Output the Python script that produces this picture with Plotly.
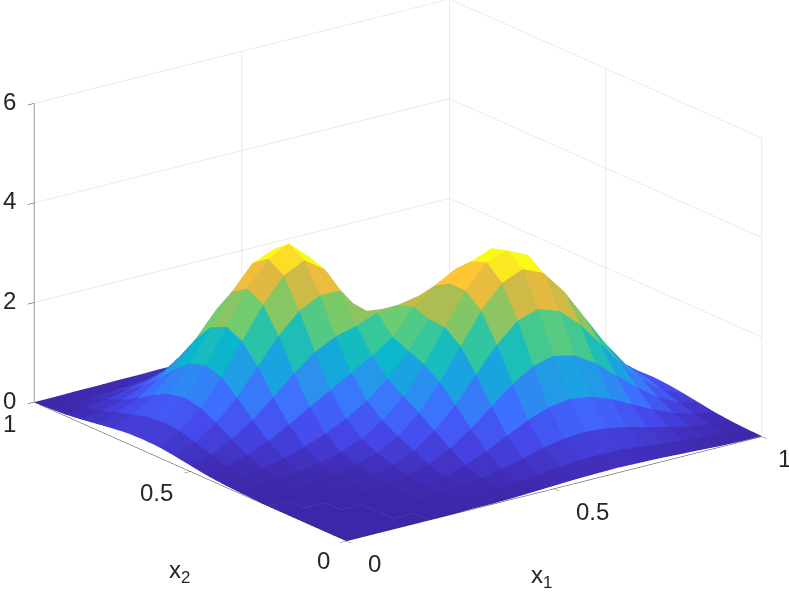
import plotly.graph_objects as go

# grid of the surface
x1_vals = [i * 0.05 for i in range(21)]
x2_vals = [j * 0.05 for j in range(21)]

# heights, one row per x2 value, x1 runs left to right
z_rows = [
    [0, 0, 0, 0, 0, 0, .01, .01, .02, .04, .06, .08, .09, .10, .09, .08, .06, .04, .02, .01, .01],
    [0, 0, 0, 0, 0, .01, .02, .03, .06, .10, .15, .19, .23, .24, .23, .19, .15, .10, .06, .03, .02],
    [0, 0, 0, 0, .01, .02, .04, .07, .14, .23, .33, .44, .52, .55, .52, .44, .33, .23, .14, .07, .04],
    [0, 0, 0, 0, .01, .03, .07, .14, .27, .44, .65, .86, 1.01, 1.07, 1.01, .86, .65, .44, .27, .14, .07],
    [0, 0, 0, .01, .03, .06, .13, .25, .46, .75, 1.10, 1.44, 1.70, 1.80, 1.70, 1.44, 1.09, .74, .45, .24, .12],
    [0, 0, .01, .02, .05, .10, .20, .38, .68, 1.09, 1.60, 2.09, 2.47, 2.60, 2.46, 2.08, 1.58, 1.07, .65, .35, .17],
    [.01, .01, .03, .05, .09, .17, .30, .53, .90, 1.41, 2.03, 2.64, 3.09, 3.26, 3.08, 2.60, 1.97, 1.34, .81, .44, .21],
    [.02, .03, .06, .11, .18, .29, .45, .71, 1.09, 1.63, 2.27, 2.90, 3.37, 3.50, 3.30, 2.62, 2.00, 1.44, .87, .47, .23],
    [.04, .07, .14, .23, .36, .52, .71, .97, 1.31, 1.76, 2.29, 2.90, 3.24, 3.40, 3.22, 2.80, 2.20, 1.55, .95, .50, .22],
    [.07, .14, .26, .44, .66, .91, 1.15, 1.39, 1.63, 1.90, 2.40, 2.72, 2.95, 3.05, 3.05, 2.70, 2.20, 1.65, 1.05, .55, .25],
    [.12, .24, .44, .72, 1.08, 1.45, 1.77, 1.98, 2.09, 2.25, 2.30, 2.38, 2.50, 2.62, 2.70, 2.45, 2.00, 1.50, .95, .50, .22],
    [.17, .34, .63, 1.04, 1.55, 2.06, 2.46, 2.67, 2.66, 2.12, 2.08, 2.05, 2.10, 2.10, 2.00, 1.80, 1.50, 1.10, .70, .38, .17],
    [.21, .43, .79, 1.30, 1.92, 2.55, 3.03, 3.23, 2.94, 2.24, 1.90, 1.75, 1.70, 1.60, 1.45, 1.25, 1.00, .75, .45, .25, .12],
    [.22, .46, .85, 1.40, 2.07, 2.73, 3.23, 3.43, 3.05, 2.50, 1.90, 1.45, 1.20, 1.05, .90, .75, .60, .42, .25, .13, .07],
    [.21, .43, .79, 1.30, 1.92, 2.53, 3.00, 3.17, 2.95, 2.50, 1.90, 1.30, .90, .65, .50, .38, .30, .20, .12, .06, .03],
    [.17, .34, .63, 1.04, 1.54, 2.03, 2.40, 2.53, 2.40, 2.04, 1.55, 1.06, .66, .42, .28, .20, .15, .10, .05, .02, 0],
    [.12, .24, .43, .72, 1.06, 1.39, 1.65, 1.74, 1.65, 1.40, 1.06, .72, .44, .24, .12, .06, .02, .01, 0, 0, 0],
    [.07, .14, .26, .43, .63, .83, .98, 1.04, .98, .83, .63, .43, .26, .14, .07, .03, .01, 0, 0, 0, 0],
    [.03, .07, .13, .22, .32, .42, .50, .53, .50, .42, .32, .22, .13, .07, .03, .02, .01, 0, 0, 0, 0],
    [.01, .02, .03, .05, .07, .10, .22, .24, .22, .19, .14, .10, .06, .03, .02, .01, 0, 0, 0, 0, 0],
    [0, 0, .01, .01, .02, .02, .03, .03, .03, .02, .02, .01, .01, 0, 0, 0, 0, 0, 0, 0, 0],
]

x_ticks = [0, 0.5, 1]
x_labels = ["0", "0.5", "1"]
z_ticks = [0, 2, 4, 6]
z_labels = ["0", "2", "4", "6"]

color_max = 3.2

# parula colour stops
parula = [
    (62, 38, 168), (71, 71, 235), (62, 111, 255), (39, 150, 235), (8, 181, 208),
    (50, 198, 160), (112, 204, 110), (165, 190, 85), (225, 185, 65), (254, 195, 55),
    (249, 251, 21),
]


def parula_color(value, vmax):
    t = max(min(value / vmax, 1), 0) * (len(parula) - 1)
    lo = min(int(t), len(parula) - 2)
    f = t - lo
    rgb = [round(a + (b - a) * f) for a, b in zip(parula[lo], parula[lo + 1])]
    return f"rgb({rgb[0]},{rgb[1]},{rgb[2]})"


n = len(x1_vals)
m = len(x2_vals)

xs, ys, zs = [], [], []
for j in range(m):
    for i in range(n):
        xs.append(x1_vals[i])
        ys.append(x2_vals[j])
        zs.append(z_rows[j][i])

# two triangles per cell, flat coloured like surf
ti, tj, tk, face_colors = [], [], [], []
for j in range(m - 1):
    for i in range(n - 1):
        a = j * n + i
        b = a + 1
        c = a + n + 1
        d = a + n
        col = parula_color(z_rows[j][i], color_max)
        ti += [a, a]
        tj += [b, c]
        tk += [c, d]
        face_colors += [col, col]

fig = go.Figure(
    go.Mesh3d(
        x=xs, y=ys, z=zs, i=ti, j=tj, k=tk,
        facecolor=face_colors,
        flatshading=True,
        lighting=dict(ambient=1, diffuse=0, specular=0, fresnel=0),
        hoverinfo="skip",
        showscale=False,
    )
)

label_font = dict(family="Liberation Sans", size=24, color="#262626")


def label(x, y, z, text, dx, dy):
    return dict(x=x, y=y, z=z, text=text, showarrow=False, font=label_font,
                xshift=dx, yshift=-dy, xanchor="center", yanchor="middle")


x_shifts = [(28, 23), (38, 23), (23, 22)]
y_shifts = [(-23, 20), (-34, 21), (-25, 21)]
annotations = []
for v, t, s in zip(x_ticks, x_labels, x_shifts):
    annotations.append(label(v, 0, 0, t, s[0], s[1]))
for v, t, s in zip(x_ticks, x_labels, y_shifts):
    annotations.append(label(0, v, 0, t, s[0], s[1]))
for v, t in zip(z_ticks, z_labels):
    annotations.append(label(0, 1, v, t, -25, -2))
annotations.append(label(0.5, 0, 0, "x<sub>1</sub>", -13, 88))
annotations.append(label(0, 0.5, 0, "x<sub>2</sub>", -11, 100))

common = dict(
    showbackground=False,
    showgrid=True,
    gridcolor="#d8d8d8",
    gridwidth=1,
    showline=True,
    linecolor="#333333",
    linewidth=1,
    ticks="outside",
    ticklen=8,
    tickcolor="#333333",
    showticklabels=False,
    zeroline=False,
    showspikes=False,
    title=dict(text=""),
)

fig.update_layout(
    width=789,
    height=594,
    margin=dict(l=0, r=0, t=0, b=0),
    paper_bgcolor="white",
    scene=dict(
        domain=dict(x=[0, 1], y=[0, 1]),
        aspectmode="manual",
        aspectratio=dict(x=1.75, y=1.75, z=1.067),
        camera=dict(
            projection=dict(type="orthographic"),
            eye=dict(x=-1.7075, y=-2.252, z=0.9056),
            center=dict(x=-0.0095, y=0.007, z=-0.0964),
            up=dict(x=0, y=0, z=1),
        ),
        xaxis=dict(range=[0, 1], tickvals=x_ticks, **common),
        yaxis=dict(range=[0, 1], tickvals=x_ticks, **common),
        zaxis=dict(range=[0, 6], tickvals=z_ticks, **common),
        annotations=annotations,
    ),
)

# the page's default body margin would push the figure out of the window
fig.write_html(
    "out.html",
    config=dict(displayModeBar=False),
    post_script="document.body.style.margin = '0';",
)
